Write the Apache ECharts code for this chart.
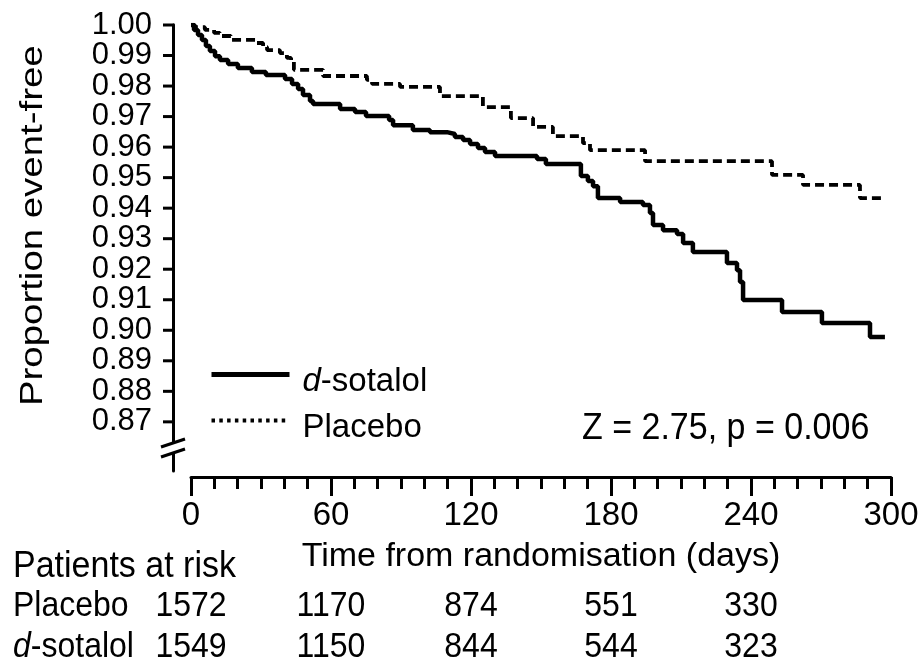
<!DOCTYPE html>
<html>
<head>
<meta charset="utf-8">
<script src="https://cdn.jsdelivr.net/npm/echarts@6/dist/echarts.min.js"></script>
<style>
  html, body { margin: 0; padding: 0; background: #fff; }
  #chart { width: 923px; height: 670px; background: #fff; }
</style>
</head>
<body>
<div id="chart"></div>
<script>
// Kaplan–Meier estimates: [day, proportion event-free] after each step
const sotalolSteps = [
  [0, 1.0000], [1.3, 0.9984], [3.0, 0.9967], [4.7, 0.9951], [6.4, 0.9931],
  [8.1, 0.9915], [10.3, 0.9898], [12.4, 0.9885], [15.9, 0.9872], [20.1, 0.9859],
  [26.1, 0.9846], [32.1, 0.9836], [40.3, 0.9823], [43.3, 0.9807], [45.9, 0.9790],
  [48.0, 0.9771], [51.0, 0.9751], [52.3, 0.9741], [63.9, 0.9725], [70.3, 0.9715],
  [75.0, 0.9702], [84.9, 0.9689], [86.6, 0.9672], [95.1, 0.9656], [102.4, 0.9649],
  [109.7, 0.9643], [113.1, 0.9633], [116.6, 0.9623], [119.6, 0.9610], [123.0, 0.9597],
  [126.0, 0.9584], [130.3, 0.9571], [148.3, 0.9561], [152.1, 0.9545], [167.1, 0.9505],
  [170.1, 0.9489], [172.3, 0.9472], [174.4, 0.9433], [183.9, 0.9420], [193.7, 0.9410],
  [196.7, 0.9384], [198.0, 0.9345], [202.3, 0.9328], [208.3, 0.9315], [210.9, 0.9286],
  [215.1, 0.9256], [229.7, 0.9220], [234.0, 0.9197], [235.3, 0.9158], [236.6, 0.9099],
  [253.3, 0.9060], [270.4, 0.9024], [291.0, 0.8978], [297.4, 0.8978]
];
const placeboSteps = [
  [0, 1.0000], [1.7, 0.9993], [6.0, 0.9984], [9.9, 0.9974], [12.4, 0.9964],
  [17.1, 0.9951], [27.9, 0.9941], [30.9, 0.9928], [32.6, 0.9918], [38.1, 0.9908],
  [41.1, 0.9892], [42.9, 0.9879], [44.1, 0.9853], [56.6, 0.9833], [75.4, 0.9820],
  [77.6, 0.9807], [89.6, 0.9797], [106.7, 0.9767], [125.1, 0.9731], [137.1, 0.9695],
  [146.6, 0.9666], [155.1, 0.9636], [168.0, 0.9613], [171.0, 0.9590], [194.6, 0.9554],
  [249.0, 0.9509], [262.3, 0.9476], [286.7, 0.9433], [297.4, 0.9433]
];

const seriesNames = ['d-sotalol', 'Placebo'];
const yTicks = [0.87, 0.88, 0.89, 0.90, 0.91, 0.92, 0.93, 0.94, 0.95, 0.96, 0.97, 0.98, 0.99, 1.00];
const yMin = 0.8539;
const yMax = 1.00;
const xMax = 300;
const xStep = 60;

// Numbers at risk, read at the start of each 60-day block
const riskDays = [0, 60, 120, 180, 240];
const placeboAtRisk = [1572, 1170, 874, 551, 330];
const sotalolAtRisk = [1549, 1150, 844, 544, 323];

const yTitle = 'Proportion event-free';
const xTitle = 'Time from randomisation (days)';
const riskTitle = 'Patients at risk';
const statText = 'Z = 2.75, p = 0.006';

const FONT = '"Liberation Sans", Arial, sans-serif';
const INK = '#000';
const Y_OFFSET = 18;
const Y_TICK_LEN = 10;
const Y_LABEL_GAP = 21;
const NO_SYMBOL = { color: 'rgba(0,0,0,0)', borderWidth: 0, opacity: 0 };

const chart = echarts.init(document.getElementById('chart'), null, { renderer: 'canvas' });

chart.setOption({
  animation: false,
  grid: { left: 191, right: 32, top: 25, bottom: 199 },
  xAxis: {
    type: 'value', min: 0, max: xMax, interval: xStep, offset: 6,
    axisLine: { onZero: false, lineStyle: { color: INK, width: 3 } },
    axisTick: { length: 19, lineStyle: { color: INK, width: 3 } },
    minorTick: { show: true, splitNumber: 6, length: 12, lineStyle: { color: INK, width: 3 } },
    splitLine: { show: false },
    minorSplitLine: { show: false },
    axisLabel: { fontSize: 33, color: INK, fontFamily: FONT, margin: 22, showMinLabel: true, showMaxLabel: true },
    name: xTitle, nameLocation: 'middle', nameGap: 63,
    nameTextStyle: { fontSize: 34, color: INK, fontFamily: FONT }
  },
  yAxis: {
    type: 'value', min: yMin, max: yMax, offset: Y_OFFSET,
    axisLine: { show: true, onZero: false, lineStyle: { color: INK, width: 3 } },
    axisTick: { show: false },
    axisLabel: { show: false },
    splitLine: { show: false }
  },
  legend: {
    orient: 'vertical', left: 209, top: 365, padding: 0, itemGap: 13,
    itemWidth: 78, itemHeight: 14,
    formatter: n => (n === 'd-sotalol' ? '{it|d}-sotalol' : n),
    textStyle: {
      fontSize: 33, color: INK, fontFamily: FONT, padding: [14, 0, 0, 8],
      rich: { it: { fontStyle: 'italic', fontSize: 33, color: INK, fontFamily: FONT } }
    },
    data: [
      { name: seriesNames[0], itemStyle: NO_SYMBOL, lineStyle: { color: INK, width: 5, type: 'solid' } },
      { name: seriesNames[1], itemStyle: NO_SYMBOL, lineStyle: { color: INK, width: 4, type: [3.5, 4.3] } }
    ]
  },
  series: [
    {
      name: seriesNames[1], type: 'line', step: 'end', data: placeboSteps,
      symbol: 'none', showSymbol: false, z: 2,
      itemStyle: { color: INK },
      lineStyle: { color: INK, width: 3.8, type: [9, 5] }
    },
    {
      name: seriesNames[0], type: 'line', step: 'end', data: sotalolSteps,
      symbol: 'none', showSymbol: false, z: 3,
      itemStyle: { color: INK },
      lineStyle: { color: INK, width: 4.5, type: 'solid' }
    }
  ]
});

// Y ticks and labels, axis break, annotation and the at-risk table, placed from the axes' own scales
const px = d => chart.convertToPixel({ xAxisIndex: 0 }, d);
const py = v => chart.convertToPixel({ yAxisIndex: 0 }, v);
const axisX = px(0) - Y_OFFSET;
const yBottom = py(yMin);
const breakMid = yBottom - 23;

const textEl = (text, x, y, opts) => Object.assign({
  type: 'text', x: x, y: y, silent: true, z: 100,
  style: Object.assign({
    text: text, fill: INK, font: '32px ' + FONT, align: 'left', verticalAlign: 'middle'
  }, (opts && opts.style) || {})
}, (opts && opts.el) || {});

const graphics = [];

// outward ticks (drawn as thin bars on their own layer) and labels on the y axis
yTicks.forEach(v => {
  const y = py(v);
  graphics.push({
    type: 'rect', silent: true, zlevel: 1, z: 100,
    shape: { x: axisX - Y_TICK_LEN, y: y - 1.5, width: Y_TICK_LEN + 1.5, height: 3 },
    style: { fill: INK }
  });
  graphics.push(textEl(v.toFixed(2), axisX - Y_LABEL_GAP, y, {
    style: { align: 'right', font: '31px ' + FONT }
  }));
});

graphics.push(
  // gap in the y axis line with two slash marks
  { type: 'rect', silent: true, zlevel: 1, z: 100, shape: { x: axisX - 4, y: breakMid - 5, width: 8, height: 10 }, style: { fill: '#fff' } },
  { type: 'line', silent: true, zlevel: 1, z: 101, shape: { x1: axisX - 12, y1: breakMid - 1, x2: axisX + 12, y2: breakMid - 9 }, style: { stroke: INK, lineWidth: 3 } },
  { type: 'line', silent: true, zlevel: 1, z: 101, shape: { x1: axisX - 12, y1: breakMid + 9, x2: axisX + 12, y2: breakMid + 1 }, style: { stroke: INK, lineWidth: 3 } },

  // y axis title
  textEl(yTitle, 33.5, py((yMax + 0.8685) / 2), {
    style: { align: 'center', font: '32px ' + FONT },
    el: { rotation: Math.PI / 2, scaleX: 1.2 }
  }),

  // log-rank statistic
  textEl(statText, 582, 429, { style: { font: '34px ' + FONT }, el: { scaleY: 1.1 } }),

  // at-risk table
  textEl(riskTitle, 13, 566.5, { style: { font: '34px ' + FONT }, el: { scaleY: 1.1 } }),
  textEl(seriesNames[1], 13, 606.5, { style: { font: '32px ' + FONT }, el: { scaleY: 1.1 } }),
  textEl('{it|d}-sotalol', 13, 647.5, {
    style: { font: '32px ' + FONT, rich: { it: { fontStyle: 'italic', font: 'italic 32px ' + FONT, fill: INK } } },
    el: { scaleY: 1.1 }
  })
);

riskDays.forEach((d, i) => {
  graphics.push(textEl(String(placeboAtRisk[i]), px(d), 606.5, {
    style: { align: 'center', font: '32px ' + FONT }, el: { scaleY: 1.1 }
  }));
  graphics.push(textEl(String(sotalolAtRisk[i]), px(d), 647.5, {
    style: { align: 'center', font: '32px ' + FONT }, el: { scaleY: 1.1 }
  }));
});

chart.setOption({ graphic: graphics });
</script>
</body>
</html>
